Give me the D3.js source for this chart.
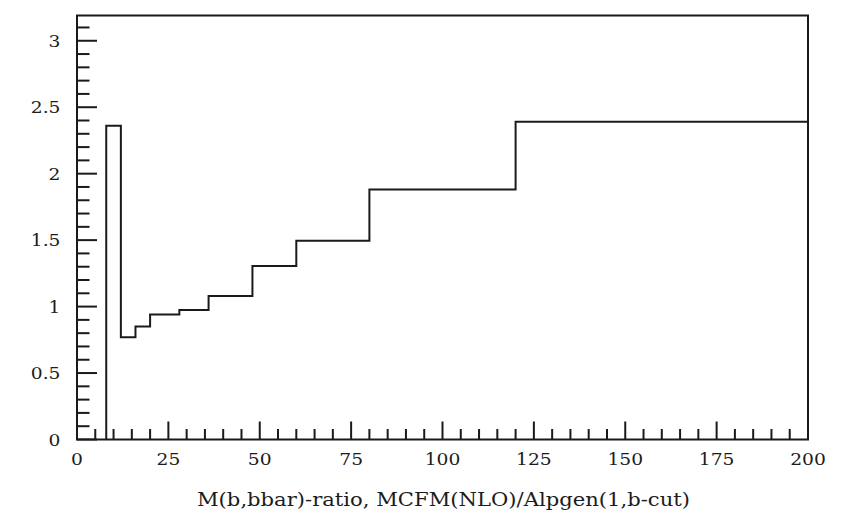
<!DOCTYPE html>
<html>
<head>
<meta charset="utf-8">
<script src="https://cdn.jsdelivr.net/npm/d3@7/dist/d3.min.js"></script>
<style>
  html, body { margin: 0; padding: 0; background: #fff; }
  svg { display: block; }
</style>
</head>
<body>
<div id="chart"></div>
<script>
// Bin edges of the M(b,bbar) histogram and the ratio in each bin
const binEdges = [8, 12, 16, 20, 28, 36, 48, 60, 80, 120, 200];
const ratioValues = [2.36, 0.77, 0.85, 0.94, 0.975, 1.08, 1.305, 1.495, 1.88, 2.39];

// Axis ticks and labels
const xMajorTicks = [0, 25, 50, 75, 100, 125, 150, 175, 200];
const yMajorTicks = [0, 0.5, 1, 1.5, 2, 2.5, 3];
const xLabel = "M(b,bbar)-ratio, MCFM(NLO)/Alpgen(1,b-cut)";

const W = 842, H = 522;
const margin = { left: 77, right: 34, top: 15.5, bottom: 82.5 };
const innerW = W - margin.left - margin.right;
const innerH = H - margin.top - margin.bottom;
const ink = "#1a1a1a";
const serif = "DejaVu Serif";

const svg = d3.select("#chart").append("svg")
  .attr("width", W).attr("height", H);

const g = svg.append("g")
  .attr("transform", `translate(${margin.left},${margin.top})`);

const x = d3.scaleLinear().domain([0, 200]).range([0, innerW]);
const y = d3.scaleLinear().domain([0, 3.19]).range([innerH, 0]);

// Minor tick positions
const xMinorTicks = d3.range(0, 201, 5).filter(v => v % 25 !== 0);
const yMinorTicks = d3.range(0, 32).map(i => +(i * 0.1).toFixed(1))
  .filter(v => Math.abs(v * 2 - Math.round(v * 2)) > 1e-6);

// Bottom axis: ticks drawn inward, labels below
const xAxis = g.append("g").attr("transform", `translate(0,${innerH})`);
xAxis.selectAll("line.major").data(xMajorTicks).enter().append("line")
  .attr("x1", d => x(d)).attr("x2", d => x(d))
  .attr("y1", 0).attr("y2", -18)
  .attr("stroke", ink).attr("stroke-width", 2);
xAxis.selectAll("line.minor").data(xMinorTicks).enter().append("line")
  .attr("x1", d => x(d)).attr("x2", d => x(d))
  .attr("y1", 0).attr("y2", -10.5)
  .attr("stroke", ink).attr("stroke-width", 2);
xAxis.selectAll("text").data(xMajorTicks).enter().append("text")
  .attr("transform", d => `translate(${x(d)},25.5) scale(1.1,1)`)
  .attr("text-anchor", "middle")
  .attr("font-family", serif)
  .attr("font-size", 17)
  .attr("fill", "#1c1c1c")
  .text(d => d);

// Left axis: ticks drawn inward, labels to the left
const yAxis = g.append("g");
yAxis.selectAll("line.major").data(yMajorTicks).enter().append("line")
  .attr("x1", 0).attr("x2", 20)
  .attr("y1", d => y(d)).attr("y2", d => y(d))
  .attr("stroke", ink).attr("stroke-width", 2);
yAxis.selectAll("line.minor").data(yMinorTicks).enter().append("line")
  .attr("x1", 0).attr("x2", 12.5)
  .attr("y1", d => y(d)).attr("y2", d => y(d))
  .attr("stroke", ink).attr("stroke-width", 2);
yAxis.selectAll("text").data(yMajorTicks).enter().append("text")
  .attr("transform", d => `translate(-16.5,${y(d) + 6}) scale(1.1,1)`)
  .attr("text-anchor", "end")
  .attr("font-family", serif)
  .attr("font-size", 17)
  .attr("fill", "#1c1c1c")
  .text(d => d);

// Frame
g.append("rect")
  .attr("x", 0).attr("y", 0)
  .attr("width", innerW).attr("height", innerH)
  .attr("fill", "none").attr("stroke", ink).attr("stroke-width", 2);

// Histogram outline: rise at the first edge, step across each bin, drop at the last edge
const outline = [[binEdges[0], 0]];
ratioValues.forEach((v, i) => {
  outline.push([binEdges[i], v]);
  outline.push([binEdges[i + 1], v]);
});
outline.push([binEdges[binEdges.length - 1], 0]);

const line = d3.line().x(d => x(d[0])).y(d => y(d[1]));
g.append("path")
  .attr("d", line(outline))
  .attr("fill", "none")
  .attr("stroke", ink)
  .attr("stroke-width", 2)
  .attr("stroke-linejoin", "miter");

// Axis title
svg.append("text")
  .attr("x", 197).attr("y", 506)
  .attr("font-family", serif)
  .attr("font-size", 19)
  .attr("fill", "#1c1c1c")
  .attr("textLength", 493)
  .attr("lengthAdjust", "spacingAndGlyphs")
  .text(xLabel);
</script>
</body>
</html>
